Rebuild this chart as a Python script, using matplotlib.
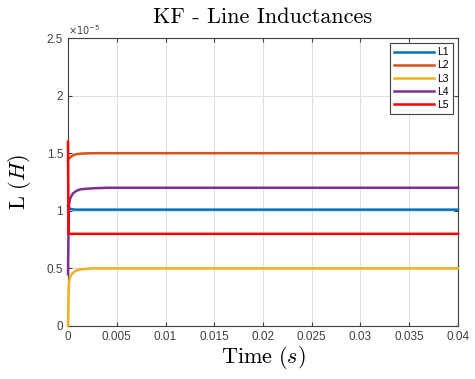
import matplotlib
matplotlib.use('Agg')
import numpy as np
from matplotlib import pyplot as plt

plt.rcParams['mathtext.fontset'] = 'cm'
plt.rcParams['font.family'] = ['Liberation Sans', 'DejaVu Sans']

# time samples (s)
t = [0.0, 0.00005, 0.0001, 0.0002, 0.0003, 0.0005, 0.0008, 0.0012, 0.0017, 0.0025, 0.004, 0.01, 0.02, 0.03, 0.04]

# inductances in units of 1e-5 H
L1 = [1.04, 1.03, 1.025, 1.02, 1.015, 1.012, 1.01, 1.01, 1.01, 1.01, 1.01, 1.01, 1.01, 1.01, 1.01]
L2 = [1.44, 1.45, 1.455, 1.46, 1.47, 1.48, 1.49, 1.495, 1.498, 1.5, 1.5, 1.5, 1.5, 1.5, 1.5]
L3 = [0.0, 0.25, 0.38, 0.42, 0.44, 0.46, 0.48, 0.49, 0.495, 0.5, 0.5, 0.5, 0.5, 0.5, 0.5]
L4 = [0.45, 0.8, 1.05, 1.1, 1.12, 1.15, 1.17, 1.185, 1.19, 1.195, 1.2, 1.2, 1.2, 1.2, 1.2]
L5 = [1.6, 0.8, 0.8, 0.8, 0.8, 0.8, 0.8, 0.8, 0.8, 0.8, 0.8, 0.8, 0.8, 0.8, 0.8]

names = ['L1', 'L2', 'L3', 'L4', 'L5']
colors = ['#0072BD', '#D95319', '#EDB120', '#7E2F8E', '#FF0000']

fig = plt.figure(figsize=(4.75, 3.79), dpi=100)
ax = fig.add_axes([68/475, 1-326/379, 390/475, 288/379])

for vals, name, c in zip([L1, L2, L3, L4, L5], names, colors):
	ax.plot(t, np.array(vals)*1e-5, color=c, lw=1.8, label=name, clip_on=False, zorder=5)

ax.set_xlim(0, 0.04)
ax.set_ylim(0, 2.5e-5)
ax.set_xticks(np.arange(0, 0.0401, 0.005))
ax.set_xticklabels(['0', '0.005', '0.01', '0.015', '0.02', '0.025', '0.03', '0.035', '0.04'])
ax.set_yticks([0, 0.5e-5, 1e-5, 1.5e-5, 2e-5, 2.5e-5])
ax.set_yticklabels(['0', '0.5', '1', '1.5', '2', '2.5'])
ax.grid(True, color='#e0e0e0', lw=0.8)
ax.set_axisbelow(True)
ax.tick_params(labelsize=8.5, colors='#404040', direction='in', length=3, top=True, right=True, labeltop=False, labelright=False)
for s in ax.spines.values():
	s.set_color('#404040')
	s.set_linewidth(0.8)

ax.text(0, 1.005, r'$\times10^{-5}$', transform=ax.transAxes, fontsize=7, color='#404040', ha='left', va='bottom', math_fontfamily='dejavusans')

ax.set_title('KF - Line Inductances', fontsize=16, family='cmr10', pad=11)
ax.set_xlabel(r'$\mathrm{Time}\ (s)$', fontsize=16, labelpad=1)
ax.set_ylabel(r'$\mathrm{L}\ (H)$', fontsize=16, labelpad=10)

leg = ax.legend(loc='upper right', fontsize=7.5, handlelength=3.8, fancybox=False, edgecolor='#404040', borderpad=0.4, labelspacing=0.3, handletextpad=0.3, framealpha=1)
leg.get_frame().set_linewidth(0.8)

fig.savefig('out.png', dpi=100, facecolor='white')
